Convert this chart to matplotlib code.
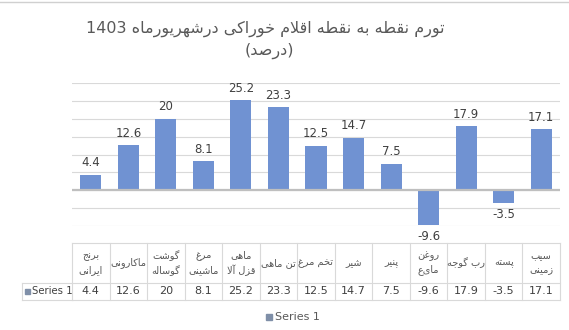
import re
import matplotlib
matplotlib.use("Agg")
import matplotlib.pyplot as plt
from matplotlib.transforms import blended_transform_factory
from matplotlib.lines import Line2D
from matplotlib.patches import Rectangle

plt.rcParams['font.family'] = ['DejaVu Sans']

# داده ها
categories = ["برنج\nایرانی", "ماکارونی", "گوشت\nگوساله", "مرغ\nماشینی", "ماهی\nقزل آلا",
              "تن ماهی", "تخم مرغ", "شیر", "پنیر", "روغن\nمایع", "رب گوجه", "پسته", "سیب\nزمینی"]
values = [4.4, 12.6, 20, 8.1, 25.2, 23.3, 12.5, 14.7, 7.5, -9.6, 17.9, -3.5, 17.1]
series_name = "Series 1"
title_lines = ["تورم نقطه به نقطه اقلام خوراکی درشهریورماه 1403", "(درصد)"]

bar_color = "#7092d2"
text_color = "#404040"
grid_color = "#d9d9d9"

# شکل دادن حروف فارسی (matplotlib خودش این کار را نمی کند)
FORMS = {
    'ا': ('\uFE8D', '\uFE8E', None, None),
    'آ': ('\uFE81', '\uFE82', None, None),
    'ب': ('\uFE8F', '\uFE90', '\uFE91', '\uFE92'),
    'پ': ('\uFB56', '\uFB57', '\uFB58', '\uFB59'),
    'ت': ('\uFE95', '\uFE96', '\uFE97', '\uFE98'),
    'ج': ('\uFE9D', '\uFE9E', '\uFE9F', '\uFEA0'),
    'خ': ('\uFEA5', '\uFEA6', '\uFEA7', '\uFEA8'),
    'د': ('\uFEA9', '\uFEAA', None, None),
    'ر': ('\uFEAD', '\uFEAE', None, None),
    'ز': ('\uFEAF', '\uFEB0', None, None),
    'س': ('\uFEB1', '\uFEB2', '\uFEB3', '\uFEB4'),
    'ش': ('\uFEB5', '\uFEB6', '\uFEB7', '\uFEB8'),
    'ص': ('\uFEB9', '\uFEBA', '\uFEBB', '\uFEBC'),
    'ط': ('\uFEC1', '\uFEC2', '\uFEC3', '\uFEC4'),
    'غ': ('\uFECD', '\uFECE', '\uFECF', '\uFED0'),
    'ف': ('\uFED1', '\uFED2', '\uFED3', '\uFED4'),
    'ق': ('\uFED5', '\uFED6', '\uFED7', '\uFED8'),
    'ک': ('\uFB8E', '\uFB8F', '\uFB90', '\uFB91'),
    'گ': ('\uFB92', '\uFB93', '\uFB94', '\uFB95'),
    'ل': ('\uFEDD', '\uFEDE', '\uFEDF', '\uFEE0'),
    'م': ('\uFEE1', '\uFEE2', '\uFEE3', '\uFEE4'),
    'ن': ('\uFEE5', '\uFEE6', '\uFEE7', '\uFEE8'),
    'ه': ('\uFEE9', '\uFEEA', '\uFEEB', '\uFEEC'),
    'و': ('\uFEED', '\uFEEE', None, None),
    'ی': ('\uFBFC', '\uFBFD', '\uFBFE', '\uFBFF'),
}
LAM_ALEF = {'ا': ('\uFEFB', '\uFEFC'), 'آ': ('\uFEF5', '\uFEF6')}


def joins_next(c):
    return c in FORMS and FORMS[c][2] is not None


def shape_line(text):
    res = []
    i = 0
    n = len(text)
    while i < n:
        c = text[i]
        prev_conn = i > 0 and joins_next(text[i - 1])
        if c == 'ل' and i + 1 < n and text[i + 1] in LAM_ALEF:
            lig = LAM_ALEF[text[i + 1]]
            res.append(lig[1] if prev_conn else lig[0])
            i += 2
            continue
        if c not in FORMS:
            res.append(c)
            i += 1
            continue
        iso, fin, ini, med = FORMS[c]
        nxt = text[i + 1] if i + 1 < n else ''
        next_conn = ini is not None and nxt in FORMS
        if prev_conn and next_conn:
            res.append(med)
        elif prev_conn:
            res.append(fin)
        elif next_conn:
            res.append(ini)
        else:
            res.append(iso)
        i += 1
    s = ''.join(res)[::-1]
    s = re.sub(r'[0-9.]+', lambda m: m.group(0)[::-1], s)
    s = s.translate(str.maketrans('()', ')('))
    return s


def fa(text):
    return '\n'.join(shape_line(t) for t in text.split('\n'))


fig = plt.figure(figsize=(5.69, 3.30), dpi=100)
W, H = 569, 330


def fy(py):
    return 1 - py / H


ax = fig.add_axes([72 / W, fy(226), 488 / W, (226 - 83.3) / H])
x = list(range(len(values)))
ax.bar(x, values, width=0.56, color=bar_color, zorder=3)
ax.set_xlim(-0.5, len(values) - 0.5)
ax.set_ylim(-10, 30)
ax.set_yticks(range(-10, 31, 5))
ax.yaxis.grid(True, color=grid_color, linewidth=0.8)
ax.axhline(0, color="#bfbfbf", linewidth=1.6, zorder=4)
ax.tick_params(left=False, bottom=False, labelleft=False, labelbottom=False)
for sp in ax.spines.values():
    sp.set_visible(False)

for xi, v in zip(x, values):
    if v >= 0:
        ax.annotate(f"{v:g}", (xi, v), xytext=(0, 4), textcoords="offset points",
                    ha="center", va="bottom", fontsize=8.5, color=text_color)
    else:
        ax.annotate(f"{v:g}", (xi, v), xytext=(0, -4), textcoords="offset points",
                    ha="center", va="top", fontsize=8.5, color=text_color)

# عنوان
fig.text(265 / W, fy(29), fa(title_lines[0]), ha="center", va="center",
         fontsize=11.5, color="#595959")
fig.text(269 / W, fy(51), fa(title_lines[1]), ha="center", va="center",
         fontsize=11.5, color="#595959")

# خط بالای تصویر
fig.add_artist(Line2D([0, 1], [fy(2), fy(2)], transform=fig.transFigure,
                      color="#d0d0d0", linewidth=1))

# جدول داده
tr = blended_transform_factory(ax.transData, fig.transFigure)
top, mid, bot = fy(243), fy(283), fy(300)
n = len(values)
lines = [([-0.5, n - 0.5], [top, top]), ([-0.5, n - 0.5], [mid, mid]),
         ([-0.5, n - 0.5], [bot, bot])]
for k in range(n + 1):
    lines.append(([k - 0.5, k - 0.5], [top, bot]))
for xs, ys in lines:
    fig.add_artist(Line2D(xs, ys, transform=tr, color=grid_color, linewidth=0.8))
left = 22 / W
ax_left = 72 / W
for ys in ([mid, mid], [bot, bot]):
    fig.add_artist(Line2D([left, ax_left], ys, transform=fig.transFigure,
                          color=grid_color, linewidth=0.8))
fig.add_artist(Line2D([left, left], [mid, bot], transform=fig.transFigure,
                      color=grid_color, linewidth=0.8))

for xi, cat, v in zip(x, categories, values):
    fig.text(xi, (top + mid) / 2, fa(cat), transform=tr, ha="center", va="center",
             fontsize=7, color="#595959", linespacing=1.5)
    fig.text(xi, (mid + bot) / 2, f"{v:g}", transform=tr, ha="center", va="center",
             fontsize=8, color=text_color, fontweight="medium")

fig.add_artist(Rectangle((25 / W, fy(294)), 5 / W, 5 / H, transform=fig.transFigure,
                         color="#7f8fa8"))
fig.text(32 / W, (mid + bot) / 2, series_name, ha="left", va="center",
         fontsize=7.3, color=text_color)

# راهنما
fig.add_artist(Rectangle((266 / W, fy(320)), 6 / W, 6 / H, transform=fig.transFigure,
                         color="#7f8fa8"))
fig.text(275 / W, fy(317), series_name, ha="left", va="center",
         fontsize=8, color="#595959")

fig.savefig("out.png", dpi=100)
